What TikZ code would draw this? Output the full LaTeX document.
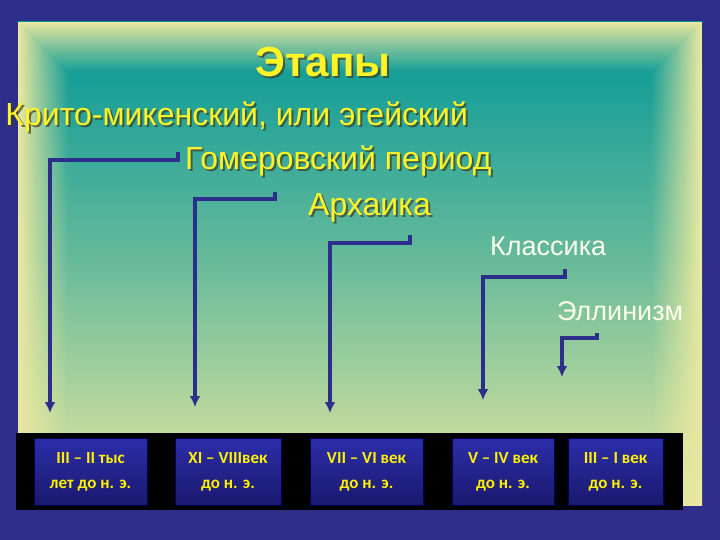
\documentclass[tikz,border=0pt]{standalone}
\usepackage{fontspec}
\usetikzlibrary{arrows.meta}
\setmainfont{Liberation Sans}
\newfontfamily\calfont{Carlito}
\definecolor{pale}{RGB}{232,232,160}
\definecolor{teal2}{RGB}{0,150,150}
\definecolor{navy2}{RGB}{46,46,138}
\definecolor{shade2}{RGB}{60,60,40}
\begin{document}
\begin{tikzpicture}[x=1pt,y=-1pt,
  ttl/.style={font=\fontsize{32}{34}\selectfont, text=yellow!85!white, anchor=west, inner sep=0},
  ttlsh/.style={ttl, text=shade2, opacity=0.7},
  cls/.style={font=\fontsize{27}{30}\selectfont, text=white!92!yellow, anchor=west, inner sep=0},
  conn/.style={draw={rgb,255:red,45;green,45;blue,140}, line width=4pt, -{Latex[length=11pt,width=11pt]}},
  yr/.style={draw=blue!30!black, top color={rgb,255:red,45;green,45;blue,170}, bottom color={rgb,255:red,25;green,25;blue,110}, minimum height=67pt, inner sep=0, text=yellow, font=\calfont\bfseries\fontsize{17}{25}\selectfont, align=center}]
\useasboundingbox (0,0) rectangle (720,540);
\fill[navy2] (0,0) rectangle (720,540);
\shade[top color=teal2, bottom color=pale, middle color=teal2!55!pale] (18,22) rectangle (702,505);
\foreach \i in {0,...,24}{
  \pgfmathsetmacro{\op}{1-\i/25}
  \draw[pale, line width=2.2pt, opacity=\op] (19+2*\i,23+2*\i) rectangle (701-2*\i,504-2*\i);
}
\fill[black] (16,433) rectangle (683,510);
% heading shadows
\node[ttlsh, font=\bfseries\fontsize{42}{44}\selectfont, anchor=center] (ts) at (325,64) {Этапы};
\node[ttlsh, anchor=east] (as) at (470,119) {Крито-микенский, или эгейский};
\node[ttlsh] (bs) at (187,163) {Гомеровский период};
\node[ttlsh] (cs) at (310,210) {Архаика};
% titles
\node[ttl, font=\bfseries\fontsize{42}{44}\selectfont, anchor=center] (t) at (323,62) {Этапы};
\node[ttl, anchor=east] (a) at (468,117) {Крито-микенский, или эгейский};
\node[ttl] (b) at (185,161) {Гомеровский период};
\node[ttl] (c) at (308,208) {Архаика};
\node[cls] (d) at (490,246) {Классика};
\node[cls] (e) at (557,311) {Эллинизм};
% boxes
\node[yr, minimum width=113pt] (y1) at (90.5,471.5) {III – II тыс\\лет до н. э.};
\node[yr, minimum width=106pt] (y2) at (228,471.5) {XI – VIIIвек\\до н. э.};
\node[yr, minimum width=113pt] (y3) at (366.5,471.5) {VII – VI век\\до н. э.};
\node[yr, minimum width=102pt] (y4) at (503,471.5) {V – IV век\\до н. э.};
\node[yr, minimum width=95pt] (y5) at (615.5,471.5) {III – I век\\до н. э.};
% connectors
\coordinate (s1) at (178,152); \coordinate (s2) at (275,192); \coordinate (s3) at (410,235);
\coordinate (s4) at (565,269); \coordinate (s5) at (597,333);
\draw[conn] (s1) -- (178,160) -- (50,160) -- (50,413);
\draw[conn] (s2) -- (275,199) -- (195,199) -- (195,407);
\draw[conn] (s3) -- (410,243) -- (330,243) -- (330,413);
\draw[conn] (s4) -- (565,277) -- (483,277) -- (483,400);
\draw[conn] (s5) -- (597,338) -- (562,338) -- (562,377);
\end{tikzpicture}
\end{document}
